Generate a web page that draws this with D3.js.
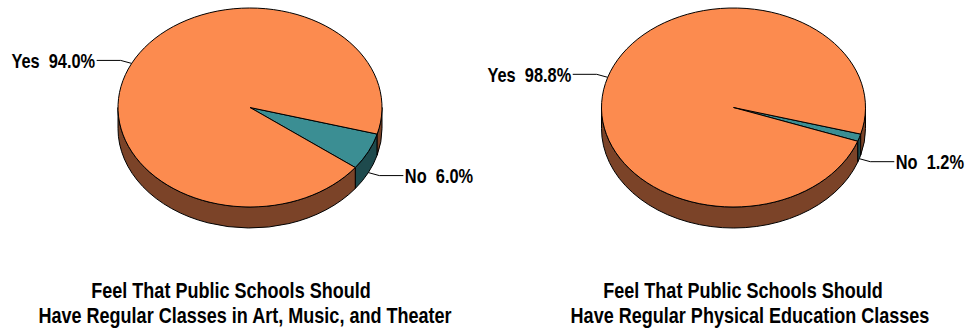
<!DOCTYPE html>
<html>
<head>
<meta charset="utf-8">
<script src="https://cdn.jsdelivr.net/npm/d3@7"></script>
<style>
  html, body { margin: 0; padding: 0; background: #fff; }
  svg { display: block; }
  text { font-family: "Liberation Sans", Arial, sans-serif; font-weight: bold; fill: #000; white-space: pre; }
</style>
</head>
<body>
<svg id="chart" width="969" height="328"></svg>
<script>
// ---- data ----
const categories = ["Yes", "No"];
const artValues = [94.0, 6.0];
const peValues = [98.8, 1.2];
const titleArt = ["Feel That Public Schools Should", "Have Regular Classes in Art, Music, and Theater"];
const titlePE = ["Feel That Public Schools Should", "Have Regular Physical Education Classes"];

// ---- styles ----
const topColors = { Yes: "#FC8B4F", No: "#3B8E93" };
const sideColors = { Yes: "#7B4328", No: "#1E4A4D" };
const narrow = 0.82; // horizontal condensing to mimic a narrow bold face

const svg = d3.select("#chart");
const rx = 132, ry = 99.5, depth = 21;
const startDeg = 105.5;

function addText(g, x, y, str, size, anchor) {
  g.append("text")
    .attr("transform", `translate(${x},${y}) scale(${narrow},1)`)
    .attr("text-anchor", anchor)
    .attr("font-size", size)
    .attr("xml:space", "preserve")
    .text(str);
}

function drawPie(values, cx, cy, titleLines, titleCenters) {
  const g = svg.append("g");
  const data = categories.map((c, i) => ({ cat: c, value: values[i] })).reverse();
  const arcs = d3.pie().sort(null).value(d => d.value)
    .startAngle(startDeg * Math.PI / 180)
    .endAngle(startDeg * Math.PI / 180 + 2 * Math.PI)(data);

  const pt = (a, dy) => [cx + rx * Math.sin(a), cy - ry * Math.cos(a) + (dy || 0)];

  // side walls (front half only)
  arcs.forEach(d => {
    for (let k = -1; k <= 2; k++) {
      const lo = Math.PI / 2 + 2 * Math.PI * k, hi = 3 * Math.PI / 2 + 2 * Math.PI * k;
      const a = Math.max(d.startAngle, lo), b = Math.min(d.endAngle, hi);
      if (b - a > 1e-6) {
        const p0 = pt(a, 0), p1 = pt(b, 0), p2 = pt(b, depth), p3 = pt(a, depth);
        const s = `M${p0[0]},${p0[1]} A${rx},${ry} 0 0 1 ${p1[0]},${p1[1]} L${p2[0]},${p2[1]} A${rx},${ry} 0 0 0 ${p3[0]},${p3[1]} Z`;
        g.append("path").attr("d", s)
          .attr("fill", sideColors[d.data.cat])
          .attr("stroke", "#000").attr("stroke-width", 1).attr("stroke-linejoin", "round");
      }
    }
  });

  // top faces
  arcs.forEach(d => {
    const p0 = pt(d.startAngle), p1 = pt(d.endAngle);
    const large = (d.endAngle - d.startAngle) > Math.PI ? 1 : 0;
    const s = `M${cx},${cy} L${p0[0]},${p0[1]} A${rx},${ry} 0 ${large} 1 ${p1[0]},${p1[1]} Z`;
    g.append("path").attr("d", s)
      .attr("fill", topColors[d.data.cat])
      .attr("stroke", "#000").attr("stroke-width", 1).attr("stroke-linejoin", "round");
  });

  // labels with leader lines
  arcs.forEach(d => {
    const m = (d.startAngle + d.endAngle) / 2;
    const front = Math.cos(m) < 0;
    const sign = Math.sin(m) >= 0 ? 1 : -1;
    const anc = pt(m, front ? depth : 0);
    const elbow = [anc[0] + sign * 11, anc[1] + (front ? 3 : -3)];
    const end = [elbow[0] + sign * 24, elbow[1]];
    g.append("path")
      .attr("d", `M${anc[0]},${anc[1]} L${elbow[0]},${elbow[1]} L${end[0]},${end[1]}`)
      .attr("fill", "none").attr("stroke", "#000").attr("stroke-width", 1);
    addText(g, end[0] + sign * 1.5, elbow[1] + 7.5,
      `${d.data.cat}  ${d.data.value.toFixed(1)}%`, 20, sign > 0 ? "start" : "end");
  });

  // title
  titleLines.forEach((t, i) => {
    addText(g, titleCenters[i], 298 + i * 25, t, 22, "middle");
  });
}

drawPie(artValues, 250, 107.5, titleArt, [231, 245]);
drawPie(peValues, 733.5, 107.5, titlePE, [743, 750]);
</script>
</body>
</html>
